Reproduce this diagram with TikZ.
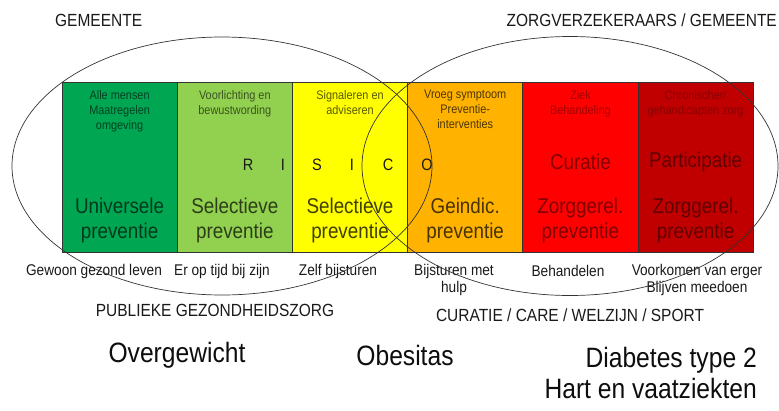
\documentclass[tikz,border=0pt]{standalone}
\usepackage{fontspec}
\setmainfont[FakeStretch=0.88]{Liberation Sans}
\usetikzlibrary{positioning}
\definecolor{gzgreen}{HTML}{00A651}
\definecolor{gzlight}{HTML}{92D050}
\definecolor{gzyellow}{HTML}{FFFF00}
\definecolor{gzorange}{HTML}{FFB300}
\definecolor{gzred}{HTML}{FF0000}
\definecolor{gzdark}{HTML}{C00000}
\newcommand{\fsz}[2]{\fontsize{#1}{#2}\selectfont}

\begin{document}
\begin{tikzpicture}[x=1pt,y=-1pt,
  colbox/.style={draw=black!80,line width=0.7pt,minimum width=115.2pt,minimum height=170pt,inner sep=0pt,outer sep=0pt},
  smalltxt/.style={font=\fsz{12.4}{15},align=center,anchor=north,inner sep=0pt},
  bigtxt/.style={font=\fsz{21.4}{25},align=center,inner sep=0pt},
  steptxt/.style={font=\fsz{15.5}{17},align=center,inner sep=0pt,text=black!90},
  headtxt/.style={font=\fsz{17.6}{20},inner sep=0pt,text=black!90},
  risico/.style={font=\fsz{16.5}{18},inner sep=0pt,text=black!90},
  disease/.style={font=\fsz{28}{31},inner sep=0pt,text=black!95},
  ring/.style={draw=black!80,line width=0.7pt}]
  \useasboundingbox (0,0) rectangle (779,410);

  \node[headtxt,anchor=west] (gem) at (55,20) {GEMEENTE};
  \node[headtxt,anchor=east] (zv) at (777,20) {ZORGVERZEKERAARS / GEMEENTE};

  %columns
  \node[colbox,fill=gzgreen,anchor=north west] (c1) at (62,82) {};
  \node[colbox,fill=gzlight,right=0pt of c1] (c2) {};
  \node[colbox,fill=gzyellow,right=0pt of c2] (c3) {};
  \node[colbox,fill=gzorange,right=0pt of c3] (c4) {};
  \node[colbox,fill=gzred,right=0pt of c4] (c5) {};
  \node[colbox,fill=gzdark,right=0pt of c5] (c6) {};

  \node[smalltxt,text=gzgreen!40!black] (s1) at ([yshift=-8pt]c1.north) {Alle mensen\\Maatregelen\\omgeving};
  \node[smalltxt,text=gzlight!40!black] (s2) at ([yshift=-8pt]c2.north) {Voorlichting en\\bewustwording};
  \node[smalltxt,text=gzyellow!35!black] (s3) at ([yshift=-8pt]c3.north) {Signaleren en\\adviseren};
  \node[smalltxt,text=gzorange!30!black] (s4) at ([yshift=-8pt]c4.north) {Vroeg symptoom\\Preventie-\\interventies};
  \node[smalltxt,text=gzred!65!black] (s5) at ([yshift=-8pt]c5.north) {Ziek\\Behandeling};
  \node[smalltxt,text=gzdark!72!black] (s6) at ([yshift=-8pt]c6.north) {Chronischer/\\gehandicapten zorg};

  \node[bigtxt,text=gzgreen!35!black] (b1) at ([yshift=-53pt]c1.center) {Universele\\preventie};
  \node[bigtxt,text=gzlight!30!black] (b2) at ([yshift=-53pt]c2.center) {Selectieve\\preventie};
  \node[bigtxt,text=gzyellow!25!black] (b3) at ([yshift=-53pt]c3.center) {Selectieve\\preventie};
  \node[bigtxt,text=gzorange!28!black] (b4) at ([yshift=-53pt]c4.center) {Geindic.\\preventie};
  \node[bigtxt,text=gzred!50!black] (b5) at ([yshift=-53pt]c5.center) {Zorggerel.\\preventie};
  \node[bigtxt,text=gzdark!50!black] (b6) at ([yshift=-53pt]c6.center) {Zorggerel.\\preventie};
  \node[bigtxt,text=gzred!50!black] (m5) at ([yshift=5pt]c5.center) {Curatie};
  \node[bigtxt,text=gzdark!50!black] (m6) at ([yshift=5pt]c6.center) {Participatie};

  \foreach \ch/\xx [count=\i] in {R/248,I/283,S/317,I/352,C/388,O/427}
    \node[risico] (r\i) at (\xx,165) {\ch};

  %steps below the columns
  \node[steptxt] (t1) at (94,271) {Gewoon gezond leven};
  \node[steptxt] (t2) at (222,271) {Er op tijd bij zijn};
  \node[steptxt] (t3) at (338,271) {Zelf bijsturen};
  \node[steptxt] (t4) at (454,280) {Bijsturen met\\hulp};
  \node[steptxt] (t5) at (568,271) {Behandelen};
  \node[steptxt] (t6) at (697,280) {Voorkomen van erger\\Blijven meedoen};

  \node[headtxt] (pg) at (215,310) {PUBLIEKE GEZONDHEIDSZORG};
  \node[headtxt] (cc) at (570,315) {CURATIE / CARE / WELZIJN / SPORT};

  \node[disease] (d1) at (177,355) {Overgewicht};
  \node[disease] (d2) at (405,355) {Obesitas};
  \node[disease,anchor=east,align=right] (d3) at (757,373) {Diabetes type 2\\Hart en vaatziekten};

  %the two domains
  \draw[ring] (222,166) ellipse [x radius=210, y radius=129];
  \draw[ring] (570,166) ellipse [x radius=208, y radius=129.5];
\end{tikzpicture}
\end{document}
